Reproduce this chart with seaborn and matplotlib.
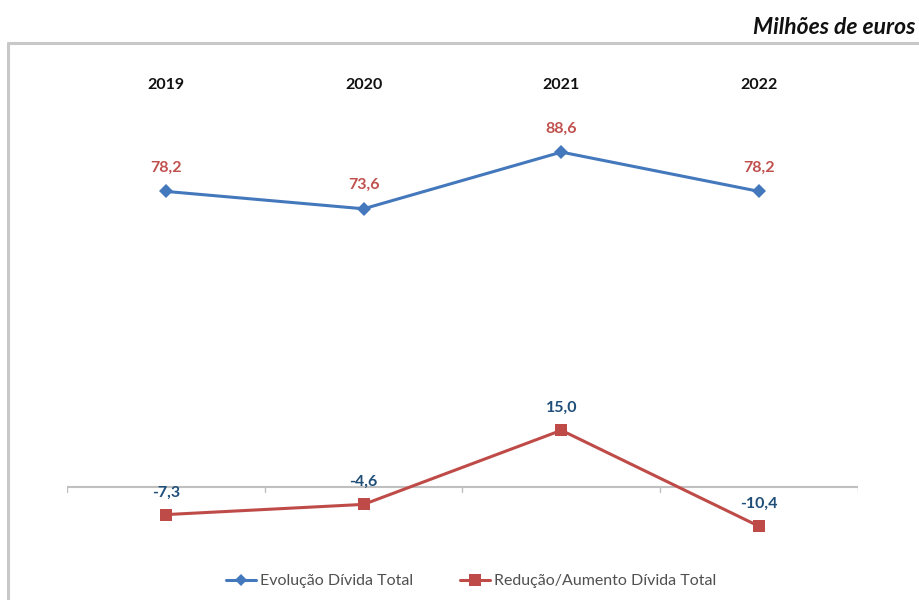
import matplotlib
matplotlib.use("Agg")
import matplotlib.pyplot as plt
import seaborn as sns
import pandas as pd
from matplotlib.lines import Line2D

years = ["2019", "2020", "2021", "2022"]
evolucao = [78.2, 73.6, 88.6, 78.2]
variacao = [-7.3, -4.6, 15.0, -10.4]
series_names = ["Evolução Dívida Total", "Redução/Aumento Dívida Total"]
unit_label = "Milhões de euros"

sns.set_theme(style="white")
plt.rcParams["font.family"] = ["Lato", "DejaVu Sans"]

blue = "#4478BC"
red = "#BE4B48"
lbl_red = "#C0504D"
lbl_blue = "#1F4E79"

df = pd.DataFrame({
    "x": list(range(len(years))) * 2,
    "valor": evolucao + variacao,
    "serie": [series_names[0]] * len(years) + [series_names[1]] * len(years),
})

W, H = 920, 600
fig = plt.figure(figsize=(9.2, 6.0), dpi=100)
ymin, ymax = -20, 110
ppu = 3.78
zero_px = 487
ax_bottom_px = zero_px - ymin * ppu
ax_top_px = zero_px - ymax * ppu
ax = fig.add_axes([67 / W, (H - ax_bottom_px) / H, 791 / W, (ax_bottom_px - ax_top_px) / H])

sns.lineplot(data=df, x="x", y="valor", hue="serie", style="serie",
             palette=[blue, red], markers=["D", "s"], dashes=False,
             markersize=8, linewidth=2.2, ax=ax, legend=False,
             markeredgewidth=0)
for ln, ms in zip(ax.lines, [7, 9]):
    ln.set_markersize(ms)

ax.set_xlim(-0.5, len(years) - 0.5)
ax.set_ylim(ymin, ymax)
for s in ax.spines.values():
    s.set_visible(False)
ax.set_xticks([])
ax.set_yticks([])
ax.set_xlabel("")
ax.set_ylabel("")
ax.axhline(0, color="#BFBFBF", lw=1.5, zorder=0)
for b in [i - 0.5 for i in range(len(years) + 1)]:
    ax.plot([b, b], [0, -1.4], color="#BFBFBF", lw=1, zorder=0)

for i, v in enumerate(evolucao):
    ax.annotate(f"{v:.1f}".replace(".", ","), (i, v), xytext=(0, 12), textcoords="offset points",
                ha="center", va="bottom", color=lbl_red, fontsize=11.5, fontweight="bold")
for i, v in enumerate(variacao):
    ax.annotate(f"{v:.1f}".replace(".", ","), (i, v), xytext=(0, 11), textcoords="offset points",
                ha="center", va="bottom", color=lbl_blue, fontsize=11.5, fontweight="bold")

for i, y in enumerate(years):
    fig.text((67 + 197.75 * (i + 0.5)) / W, 1 - 85 / H, y, ha="center", va="center",
             fontsize=11.5, fontweight="bold", color="#111111")

fig.text(915 / W, 1 - 27 / H, unit_label, ha="right", va="center",
         fontsize=16.5, fontweight="bold", fontstyle="italic", color="#111111")

fig.add_artist(Line2D([8 / W, 1.0], [1 - 43 / H, 1 - 43 / H], color="#C8C8C8", lw=2.2))
fig.add_artist(Line2D([8 / W, 8 / W], [0, 1 - 43 / H], color="#C8C8C8", lw=2.2))

handles = [Line2D([], [], color=blue, marker="D", markersize=6, lw=2.2, markeredgewidth=0),
           Line2D([], [], color=red, marker="s", markersize=8, lw=2.2, markeredgewidth=0)]
fig.legend(handles, series_names, loc="center", bbox_to_anchor=(471 / W, 1 - 581 / H),
           ncol=2, frameon=False, fontsize=11.5, handlelength=1.9, columnspacing=2.9,
           handletextpad=0.25, labelcolor="#505050")

fig.savefig("out.png", dpi=100)
